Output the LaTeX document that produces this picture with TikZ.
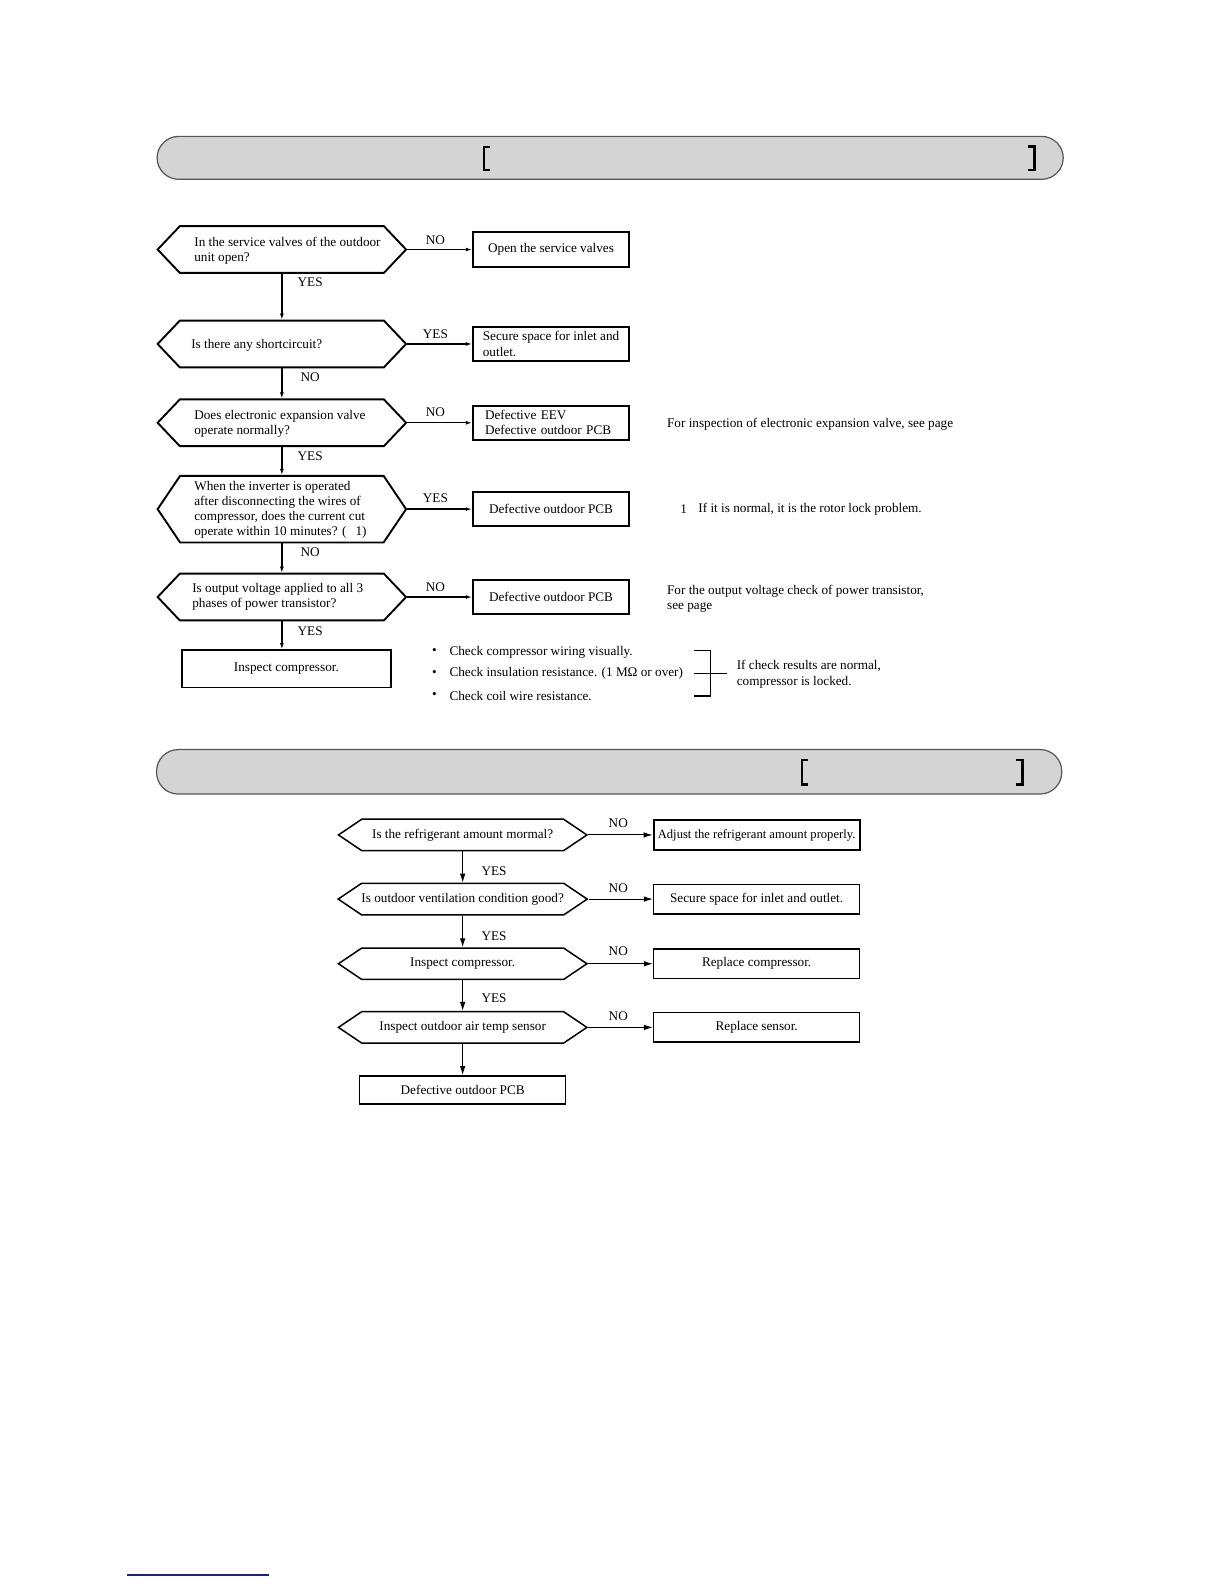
\documentclass[tikz,border=0pt]{standalone}
\usepackage{fontspec}
\setmainfont{Liberation Serif}
\usepackage{tikz}
\usetikzlibrary{shapes.symbols,arrows.meta}
\definecolor{bargray}{RGB}{212,212,212}
\definecolor{barline}{RGB}{85,85,85}
\definecolor{linkblue}{RGB}{30,30,140}

\begin{document}
\begin{tikzpicture}[x=0.505pt,y=-0.505pt,
  every node/.style={font=\fontsize{6.6}{7.6}\selectfont,inner sep=0pt},
  hexq/.style={draw,line width=0.95pt,shape=signal,signal to=west and east,signal from=nowhere,
    minimum width=124.2pt,minimum height=23.4pt,signal pointer angle=93},
  hexr/.style={draw,line width=0.75pt,shape=signal,signal to=west and east,signal from=nowhere,
    minimum width=124.2pt,minimum height=15.7pt,signal pointer angle=68},
  resbox/.style={draw,line width=0.95pt,minimum width=78.3pt,minimum height=17.2pt},
  endbox/.style={draw,line width=0.75pt,minimum width=103pt,minimum height=14.8pt},
  arrA/.style={line width=0.7pt,-{Latex[length=3pt,width=2pt]}},
  arrB/.style={line width=0.55pt,-{Latex[length=4.5pt,width=2.8pt]}},
  bar/.style={draw=barline,fill=bargray,line width=0.6pt,rounded corners=10.8pt},
  brk/.style={line width=1.2pt,line cap=butt}]
\useasboundingbox (0,0) rectangle (1212,1568);

\draw[bar] (155.5,135) rectangle (1052.5,177.5);
\draw[brk] (485,145.5) -- (479,145.5) -- (479,168) -- (485,168);
\draw[brk] (1018,145) -- (1024,145) -- (1024,168) -- (1018,168);

\node[hexq] (q1) at (279,247) {};
\node[anchor=west,align=left] (t1) at (192,248) {In the service valves of the outdoor\\unit open?};
\node[resbox] (r1) at (545.5,247) {Open the service valves};

\node[hexq] (q2) at (279,340.5) {};
\node[anchor=west] (t2) at (189,341.5) {Is there any shortcircuit?};
\node[resbox,align=left] (r2) at (545.5,340.5) {Secure space for inlet and\\outlet.};

\node[hexq] (q3) at (279,418.5) {};
\node[anchor=west,align=left] (t3) at (192,419.5) {Does electronic expansion valve\\operate normally?};
\node[resbox,text width=66pt,align=left] (r3) at (545.5,418.5) {Defective EEV\\Defective outdoor PCB};

\node[hexq,minimum height=33.3pt,signal pointer angle=112] (q4) at (279,504) {};
\node[anchor=west,align=left] (t4) at (192,504.5) {When the inverter is operated\\after disconnecting the wires of\\compressor, does the current cut\\operate within 10 minutes? (\hspace{4.5pt}1)};
\node[resbox] (r4) at (545.5,504) {Defective outdoor PCB};

\node[hexq] (q5) at (279,591) {};
\node[anchor=west,align=left] (t5) at (190,591) {Is output voltage applied to all 3\\phases of power transistor?};
\node[resbox] (r5) at (545.5,591) {Defective outdoor PCB};

\node[resbox,minimum width=104.5pt,minimum height=18.7pt] (r6) at (283.5,662) {Inspect compressor.};

\draw[arrA] (q1.east) -- (r1.west);
\draw[arrA] (q2.east) -- (r2.west);
\draw[arrA] (q3.east) -- (r3.west);
\draw[arrA] (q4.east) -- (r4.west);
\draw[arrA] (q5.east) -- (r5.west);
\draw[arrA] (q1.south) -- (q2.north);
\draw[arrA] (q2.south) -- (q3.north);
\draw[arrA] (q3.south) -- (q4.north);
\draw[arrA] (q4.south) -- (q5.north);
\draw[arrA] (q5.south) -- (q5.south |- r6.north);

\node (l1) at (431,237.5) {NO};
\node (l2) at (431,330.5) {YES};
\node (l3) at (431,408.5) {NO};
\node (l4) at (431,493.5) {YES};
\node (l5) at (431,581.5) {NO};
\node (l6) at (307,279.5) {YES};
\node (l7) at (307,373.5) {NO};
\node (l8) at (307,451.5) {YES};
\node (l9) at (307,546.5) {NO};
\node (l10) at (307,624.5) {YES};

\node[anchor=west] (n1) at (660,420) {For inspection of electronic expansion valve, see page};
\node[anchor=west] (n2a) at (673,504) {1};
\node[anchor=west] (n2) at (691,504) {If it is normal, it is the rotor lock problem.};
\node[anchor=west,align=left] (n3) at (660,593) {For the output voltage check of power transistor,\\see page};

\node (d1) at (430,645) {\textbullet};
\node (d2) at (430,666.6) {\textbullet};
\node (d3) at (430,688.8) {\textbullet};
\node[anchor=west] (c1) at (444.6,645.5) {Check compressor wiring visually.};
\node[anchor=west] (c2) at (444.6,667) {Check insulation resistance. (1 MΩ or over)};
\node[anchor=west] (c3) at (444.6,689.3) {Check coil wire resistance.};
\draw[line width=0.6pt] (687,643.6) -- (703.6,643.6) -- (703.6,689) -- (687,689);
\draw[line width=0.6pt] (687,666.3) -- (719.5,666.3);
\node[anchor=west,align=left] (c4) at (729,667.5) {If check results are normal,\\compressor is locked.};

\draw[bar] (155,742) rectangle (1051,786);
\draw[brk] (800,752.5) -- (794,752.5) -- (794,776.5) -- (800,776.5);
\draw[brk] (1006,752.5) -- (1012,752.5) -- (1012,776.5) -- (1006,776.5);

\node[hexr] (p1) at (458,826.5) {Is the refrigerant amount mormal?};
\node[hexr] (p2) at (458,890) {Is outdoor ventilation condition good?};
\node[hexr] (p3) at (458,954) {Inspect compressor.};
\node[hexr] (p4) at (458,1017) {Inspect outdoor air temp sensor};
\node[endbox,line width=0.95pt,font=\fontsize{6.3}{7.6}\selectfont] (a1) at (749,826.5) {Adjust the refrigerant amount properly.};
\node[endbox] (a2) at (749,890) {Secure space for inlet and outlet.};
\node[endbox] (a3) at (749,954) {Replace compressor.};
\node[endbox] (a4) at (749,1017) {Replace sensor.};
\node[endbox,minimum height=14.2pt] (a5) at (458,1079) {Defective outdoor PCB};

\draw[arrB] (p1.east) -- (a1.west);
\draw[arrB] (p2.east) -- (a2.west);
\draw[arrB] (p3.east) -- (a3.west);
\draw[arrB] (p4.east) -- (a4.west);
\draw[arrB] (p1.south) -- (p2.north);
\draw[arrB] (p2.south) -- (p3.north);
\draw[arrB] (p3.south) -- (p4.north);
\draw[arrB] (p4.south) -- (a5.north);

\node (m1) at (612,815) {NO};
\node (m2) at (612,879) {NO};
\node (m3) at (612,942) {NO};
\node (m4) at (612,1006) {NO};
\node (m5) at (489,862) {YES};
\node (m6) at (489,927) {YES};
\node (m7) at (489,988) {YES};

\draw[linkblue,line width=0.8pt] (126,1559) -- (266,1559);
\end{tikzpicture}
\end{document}
